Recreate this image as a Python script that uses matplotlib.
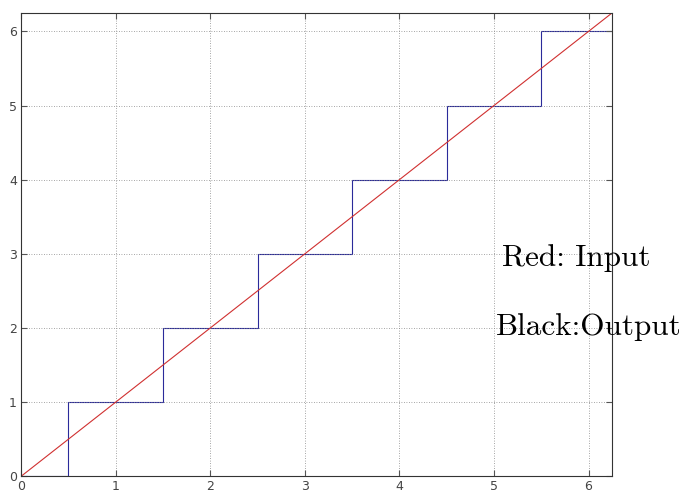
import matplotlib
matplotlib.use("Agg")
import matplotlib.pyplot as plt
import numpy as np

# quantizer: input ramp and rounded output
x_max = 6.25
input_x = [0, x_max]
input_y = [0, x_max]
step_edges = [0, 0.5, 1.5, 2.5, 3.5, 4.5, 5.5, x_max]
step_levels = [0, 1, 2, 3, 4, 5, 6]
ticks = [0, 1, 2, 3, 4, 5, 6]

fig = plt.figure(figsize=(6.84, 4.94), dpi=100)
ax = fig.add_axes([0.031, 0.036, 0.864, 0.938])

ax.stairs(step_levels, step_edges, color='#2b2b9a', linewidth=0.8, baseline=None)
ax.plot(input_x, input_y, color='#d03030', linewidth=0.8)

ax.set_xlim(0, x_max)
ax.set_ylim(0, x_max)
ax.set_xticks(ticks)
ax.set_yticks(ticks)
ax.grid(True, linestyle=(0, (1, 2)), color='#888888', linewidth=0.6)
ax.tick_params(direction='in', top=True, right=True, length=4, width=0.8,
               labelsize=9, labelcolor='#444444', color='#555555', pad=3)
for s in ax.spines.values():
    s.set_color('#333333')
    s.set_linewidth(0.8)

fig.text(502 / 684, 1 - 258 / 494, 'Red: Input', fontfamily='cmr10', fontsize=22.5,
         va='center', ha='left')
fig.text(496 / 684, 1 - 327 / 494, 'Black:Output', fontfamily='cmr10', fontsize=22.5,
         va='center', ha='left')

fig.savefig('out.png', dpi=100)
